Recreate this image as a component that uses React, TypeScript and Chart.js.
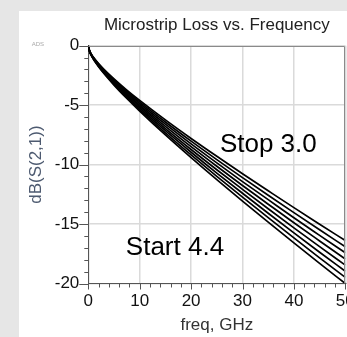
import React, { useEffect, useRef } from 'react';
import { Chart, registerables } from 'chart.js';

Chart.register(...registerables);

// Frequency samples (GHz)
const freqGHz = [0, 0.25, 0.5, 1, 2, 3, 5, 7.5, 10, 15, 20, 25, 30, 35, 40, 45, 50];

// dB(S(2,1)) per substrate Er sweep (Stop 3.0 ... Start 4.4)
const er30 = [0, -0.43, -0.64, -0.98, -1.51, -1.97, -2.79, -3.73, -4.60, -6.24, -7.80, -9.30, -10.77, -12.20, -13.62, -15.01, -16.39];
const er32 = [0, -0.44, -0.66, -1.00, -1.55, -2.02, -2.86, -3.83, -4.73, -6.42, -8.03, -9.58, -11.10, -12.58, -14.04, -15.48, -16.91];
const er34 = [0, -0.45, -0.67, -1.03, -1.58, -2.07, -2.94, -3.93, -4.86, -6.60, -8.26, -9.86, -11.43, -12.95, -14.47, -15.95, -17.42];
const er36 = [0, -0.46, -0.69, -1.05, -1.62, -2.12, -3.01, -4.03, -4.99, -6.78, -8.49, -10.14, -11.76, -13.33, -14.89, -16.42, -17.94];
const er38 = [0, -0.47, -0.70, -1.07, -1.66, -2.17, -3.09, -4.14, -5.11, -6.97, -8.73, -10.43, -12.08, -13.71, -15.32, -16.90, -18.45];
const er40 = [0, -0.48, -0.72, -1.09, -1.70, -2.22, -3.16, -4.24, -5.24, -7.15, -8.96, -10.71, -12.41, -14.09, -15.74, -17.37, -18.97];
const er42 = [0, -0.49, -0.73, -1.12, -1.73, -2.27, -3.24, -4.34, -5.37, -7.33, -9.19, -10.99, -12.74, -14.46, -16.16, -17.84, -19.48];
const er44 = [0, -0.50, -0.75, -1.14, -1.77, -2.32, -3.31, -4.44, -5.50, -7.51, -9.42, -11.27, -13.07, -14.84, -16.59, -18.31, -20.0];

const seriesNames = ['Er 3.0', 'Er 3.2', 'Er 3.4', 'Er 3.6', 'Er 3.8', 'Er 4.0', 'Er 4.2', 'Er 4.4'];
const seriesValues = [er30, er32, er34, er36, er38, er40, er42, er44];

// Axis ranges / tick steps
const xRange = [0, 50];
const yRange = [-20, 0];
const xMajorStep = 10;
const xMinorStep = 2;
const yMajorStep = 5;
const yMinorStep = 1;

// In-plot text labels (anchored in data units)
const noteTexts = ['Stop 3.0', 'Start 4.4'];
const noteFreq = [25.6, 7.3];
const noteDb = [-8.9, -17.6];

const FONT = "'Liberation Sans', Arial, Helvetica, sans-serif";

const decorPlugin = {
  id: 'decor',
  afterDraw(chart: any) {
    const { ctx, chartArea } = chart;
    const { left, right, top, bottom } = chartArea;
    const xs = chart.scales.x;
    const ys = chart.scales.y;
    ctx.save();
    // frame top / right
    ctx.strokeStyle = '#8a8a8a';
    ctx.lineWidth = 1;
    ctx.beginPath();
    ctx.moveTo(left, Math.round(top) + 0.5);
    ctx.lineTo(Math.round(right) - 0.5, Math.round(top) + 0.5);
    ctx.lineTo(Math.round(right) - 0.5, bottom);
    ctx.stroke();
    // ticks
    ctx.strokeStyle = '#555';
    ctx.beginPath();
    for (let v = yRange[0]; v <= yRange[1]; v += yMinorStep) {
      const py = Math.round(ys.getPixelForValue(v)) + 0.5;
      const len = v % yMajorStep === 0 ? 9 : 4;
      ctx.moveTo(left - len, py);
      ctx.lineTo(left, py);
    }
    for (let v = xRange[0]; v <= xRange[1]; v += xMinorStep) {
      const px = Math.round(xs.getPixelForValue(v)) + 0.5;
      const len = v % xMajorStep === 0 ? 6 : 4;
      ctx.moveTo(px, bottom);
      ctx.lineTo(px, bottom + len);
    }
    ctx.stroke();
    // notes
    ctx.fillStyle = '#000';
    ctx.font = `26px ${FONT}`;
    ctx.textBaseline = 'alphabetic';
    ctx.textAlign = 'left';
    noteTexts.forEach((t, i) => {
      ctx.fillText(t, xs.getPixelForValue(noteFreq[i]), ys.getPixelForValue(noteDb[i]));
    });
    // small ADS mark
    ctx.fillStyle = '#a8a8a8';
    ctx.font = `6px ${FONT}`;
    ctx.textBaseline = 'middle';
    ctx.fillText('ADS', left - 56.6, top - 1);
    ctx.restore();
  },
};

export default function App() {
  const ref = useRef<HTMLCanvasElement>(null);
  useEffect(() => {
    const canvas = ref.current;
    if (!canvas) return;
    const chart = new Chart(canvas, {
      type: 'line',
      data: {
        datasets: seriesValues.map((vals, i) => ({
          label: seriesNames[i],
          data: freqGHz.map((f, j) => ({ x: f, y: vals[j] })),
          borderColor: '#000',
          borderWidth: 1.7,
          pointRadius: 0,
          fill: false,
          cubicInterpolationMode: 'monotone' as const,
        })),
      },
      options: {
        responsive: false,
        animation: false,
        devicePixelRatio: 1,
        layout: { padding: { left: 0, right: 18.7, top: 0, bottom: 0 } },
        plugins: {
          legend: { display: false },
          tooltip: { enabled: false },
          title: {
            display: true,
            text: 'Microstrip Loss vs. Frequency',
            fullSize: false,
            color: '#222',
            font: { family: FONT, size: 17, weight: 'normal' },
            padding: { top: 4.6, bottom: 9.7 },
          },
        },
        scales: {
          x: {
            type: 'linear',
            min: xRange[0],
            max: xRange[1],
            ticks: { stepSize: xMajorStep, color: '#111', font: { family: FONT, size: 17 }, padding: 7.5, maxRotation: 0 },
            grid: { color: '#dadada', lineWidth: 1.5, drawTicks: false },
            border: { display: true, color: '#555', width: 1 },
            title: {
              display: true,
              text: 'freq, GHz',
              color: '#333',
              font: { family: FONT, size: 17 },
              padding: { top: 0, bottom: 1.2 },
            },
            afterFit: (s: any) => { s.height = 53.5; },
          },
          y: {
            type: 'linear',
            min: yRange[0],
            max: yRange[1],
            ticks: { stepSize: yMajorStep, color: '#111', font: { family: FONT, size: 17 }, padding: 9 },
            grid: { color: '#dadada', lineWidth: 1.5, drawTicks: false },
            border: { display: true, color: '#555', width: 1 },
            title: {
              display: true,
              text: 'dB(S(2,1))',
              color: '#4d5a70',
              font: { family: FONT, size: 17 },
              padding: { top: 7.3, bottom: 0 },
            },
            afterFit: (s: any) => { s.width = 69.3; },
          },
        },
      },
      plugins: [decorPlugin],
    });
    return () => chart.destroy();
  }, []);
  return (
    <div style={{ position: 'fixed', left: 0, top: 0, width: 347, height: 337, background: '#e6e6e6', overflow: 'hidden' }}>
      <div style={{ position: 'absolute', left: 19, top: 11, width: 345, height: 326, background: '#fff' }}>
        <canvas ref={ref} width={345} height={326} style={{ display: 'block', width: 345, height: 326 }} />
      </div>
    </div>
  );
}
